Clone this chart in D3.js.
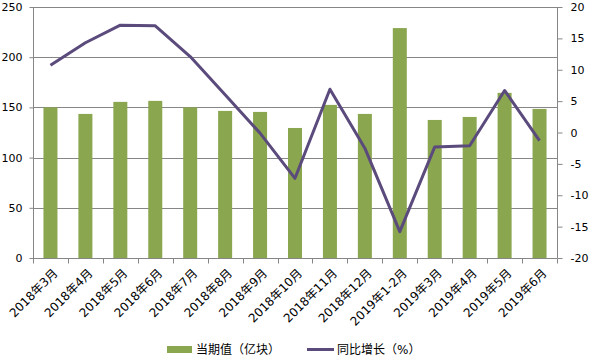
<!DOCTYPE html>
<html><head><meta charset="utf-8">
<script src="https://cdn.jsdelivr.net/npm/d3@7"></script>
<style>
body{margin:0;background:#fff;}
text{font-family:"DejaVu Sans","Noto Sans CJK SC",sans-serif;}
</style></head>
<body><svg id="c" width="592" height="364"></svg>
<script>
const categories = ["2018年3月","2018年4月","2018年5月","2018年6月","2018年7月","2018年8月","2018年9月","2018年10月","2018年11月","2018年12月","2019年1-2月","2019年3月","2019年4月","2019年5月","2019年6月"];
const barValues = [150, 143.5, 155.5, 156.5, 150, 146.5, 145.5, 129.5, 152.5, 143.5, 229, 137.5, 140.5, 164.5, 148.5];
const lineValues = [10.7, 14.3, 17.1, 17.0, 12.1, 6.0, -0.1, -7.3, 6.9, -2.5, -15.8, -2.3, -2.1, 6.7, -1.3];
const leftTicks = [0, 50, 100, 150, 200, 250];
const rightTicks = [-20, -15, -10, -5, 0, 5, 10, 15, 20];
const legendLabels = ["当期值（亿块）", "同比增长（%）"];

const svg = d3.select("#c");
const L = 33, R = 557, T = 7, B = 258;
const xb = d3.scaleBand().domain(categories).range([L, R]);
const yL = d3.scaleLinear().domain([0, 250]).range([B, T]);
const yR = d3.scaleLinear().domain([-20, 20]).range([B, T]);
const grid = "#868686", barColor = "#8aa64f", lineColor = "#5b4a7c";

// gridlines
svg.append("g").selectAll("line").data(leftTicks.filter(d => d > 0)).join("line")
  .attr("x1", L).attr("x2", R).attr("y1", d => Math.round(yL(d)) + 0.5).attr("y2", d => Math.round(yL(d)) + 0.5)
  .attr("stroke", grid).attr("stroke-width", 1);

// bars
svg.append("g").selectAll("rect").data(barValues).join("rect")
  .attr("x", (d, i) => xb(categories[i]) + xb.bandwidth() / 2 - 7)
  .attr("width", 14)
  .attr("y", d => yL(d)).attr("height", d => B - yL(d))
  .attr("fill", barColor);

// axes
const axL = svg.append("g").attr("transform", `translate(${L + 0.5},0)`)
  .call(d3.axisLeft(yL).tickValues(leftTicks).tickSize(4).tickPadding(7));
const axR = svg.append("g").attr("transform", `translate(${R + 0.5},0)`)
  .call(d3.axisRight(yR).tickValues(rightTicks).tickSize(5).tickPadding(8).tickFormat(d => String(d)));
const axB = svg.append("g").attr("transform", `translate(0,${B + 0.5})`)
  .call(d3.axisBottom(xb).tickSize(5).tickFormat(""));
axB.selectAll(".tick").remove();
axB.selectAll("line.bt").data(d3.range(categories.length + 1)).join("line")
  .attr("class", "bt")
  .attr("x1", i => Math.round(L + i * xb.step()) + 0.5).attr("x2", i => Math.round(L + i * xb.step()) + 0.5)
  .attr("y1", 0).attr("y2", 5).attr("stroke", grid);
[axL, axR, axB].forEach(a => {
  a.selectAll(".domain").attr("stroke", grid);
  a.selectAll(".tick line").attr("stroke", grid);
  a.selectAll("text").attr("font-size", 11).attr("fill", "#000");
});
axB.select(".domain").attr("d", `M${L},0H${R}`);
axL.select(".domain").attr("d", `M0,${T}V${B}`);
axR.select(".domain").attr("d", `M0,${T}V${B}`);

// x labels
svg.append("g").selectAll("text").data(categories).join("text")
  .attr("transform", d => `translate(${xb(d) + xb.bandwidth() / 2 + 5},${B + 13}) rotate(-45)`)
  .attr("text-anchor", "end").attr("dy", "0.35em")
  .attr("font-size", 12).attr("fill", "#000")
  .text(d => d);

// line
const line = d3.line().x((d, i) => xb(categories[i]) + xb.bandwidth() / 2).y(d => yR(d));
svg.append("path").datum(lineValues).attr("d", line)
  .attr("fill", "none").attr("stroke", lineColor).attr("stroke-width", 3).attr("stroke-linejoin", "round");

// legend
const lg = svg.append("g");
lg.append("rect").attr("x", 167).attr("y", 346).attr("width", 25).attr("height", 7).attr("fill", barColor);
lg.append("text").attr("x", 196).attr("y", 354).attr("font-size", 12).attr("fill", "#000").text(legendLabels[0]);
lg.append("line").attr("x1", 307).attr("x2", 334).attr("y1", 349.5).attr("y2", 349.5).attr("stroke", lineColor).attr("stroke-width", 3);
lg.append("text").attr("x", 337).attr("y", 354).attr("font-size", 12).attr("fill", "#000").text(legendLabels[1]);
</script></body></html>
